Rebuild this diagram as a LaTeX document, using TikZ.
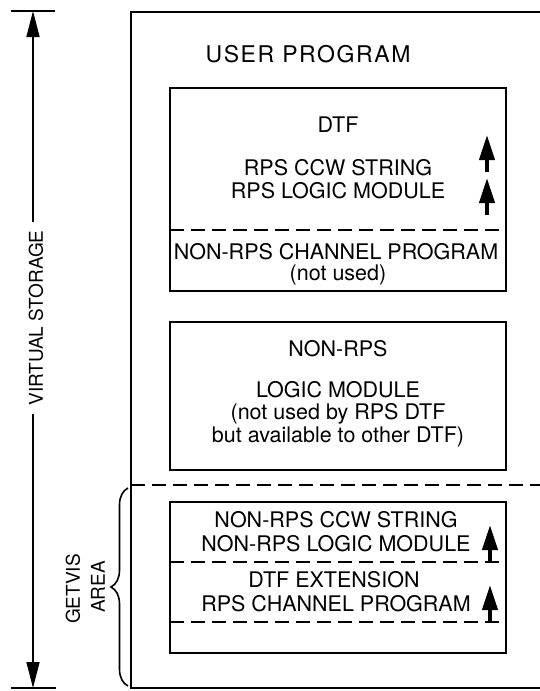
\documentclass[tikz,border=0pt]{standalone}
\usepackage{fontspec}
\setmainfont{TeX Gyre Heros}
\newfontfamily\widefont[LetterSpace=7]{TeX Gyre Heros}
\usetikzlibrary{arrows.meta,decorations.pathreplacing}

\def\dtfbox{(170,88) rectangle (506,291)}
\def\nonrpsbox{(170,322) rectangle (506,470)}
\def\getvisbox{(170,502) rectangle (506,653)}

\tikzset{
  memtext/.style={font=\fontsize{21.5}{24}\selectfont, inner sep=0pt, text height=15.4pt, text depth=0pt},
  sidetext/.style={font=\fontsize{19}{22}\selectfont, inner sep=0pt, text height=13.6pt, text depth=0pt, rotate=90},
  divider/.style={dash pattern=on 14pt off 7pt},
  moveup/.style={-{Triangle[length=25pt,width=15pt]}, line width=4pt},
  extent/.style={-{Triangle[length=26pt,width=13pt]}, line width=1.6pt},
}

\begin{document}
\begin{tikzpicture}[x=1pt,y=-1pt,line width=2.2pt]
        \useasboundingbox (0,0) rectangle (540,691);
        \begin{scope}% user program area, cut at the right edge
        \clip (0,0) rectangle (540,691);
        \draw (545,12) -- (131,12) -- (131,688) -- (545,688);
        \draw[divider] (131,485) -- (545,485);
        \end{scope}
        \draw \dtfbox;
        \draw[divider] (170,230) -- (506,230);
        \draw \nonrpsbox;
        \draw \getvisbox;
        \draw[divider] (170,562) -- (506,562);
        \draw[divider] (170,622) -- (506,622);
        % texts
        \node[memtext, font=\widefont\fontsize{23}{25}\selectfont] (user) at (308,55) {USER PROGRAM};
        \node[memtext] (dtf) at (338,125) {DTF};
        \node[memtext] (rpsccw) at (338,168) {RPS CCW STRING};
        \node[memtext] (rpslogic) at (338,191) {RPS LOGIC MODULE};
        \node[memtext] (nonrpschan) at (336,252) {NON-RPS CHANNEL PROGRAM};
        \node[memtext] (notused) at (338,273) {(not used)};
        \node[memtext] (nonrps) at (338,349) {NON-RPS};
        \node[memtext] (logic) at (338,390) {LOGIC MODULE};
        \node[memtext] (notusedby) at (338,412) {(not used by RPS DTF};
        \node[memtext] (available) at (338,435) {but available to other DTF)};
        \node[memtext] (nonrpsccw) at (336,520) {NON-RPS CCW STRING};
        \node[memtext] (nonrpslogic) at (336,544) {NON-RPS LOGIC MODULE};
        \node[memtext] (extension) at (334,580) {DTF EXTENSION};
        \node[memtext] (rpschan) at (336,604) {RPS CHANNEL PROGRAM};
        % relocation arrows
        \foreach \ax/\ay [count=\i] in {487/172, 487/215, 490/562, 490/622}{
          \coordinate (tail\i) at (\ax,\ay);
          \coordinate (tip\i) at (\ax,\ay-37);
          \draw[moveup] (tail\i) -- (tip\i);
        }
        % virtual storage extent
        \coordinate (vtop) at (33,11);
        \coordinate (vbot) at (33,688);
        \draw (11,11) -- (55,11);
        \draw (11,688) -- (56,688);
        \node[sidetext, inner xsep=7pt] (vs) at (36,318) {VIRTUAL STORAGE};
        \draw[extent] (vs.east -| vtop) -- (vtop);
        \draw[extent] (vs.west -| vbot) -- (vbot);
        % getvis area
        \draw[line width=1.6pt, decorate, decoration={brace, amplitude=17pt}] (128,686) -- (128,488);
        \node[sidetext] (getvis) at (73,589) {GETVIS};
        \node[sidetext] (area) at (98,587) {AREA};
\end{tikzpicture}
\end{document}
